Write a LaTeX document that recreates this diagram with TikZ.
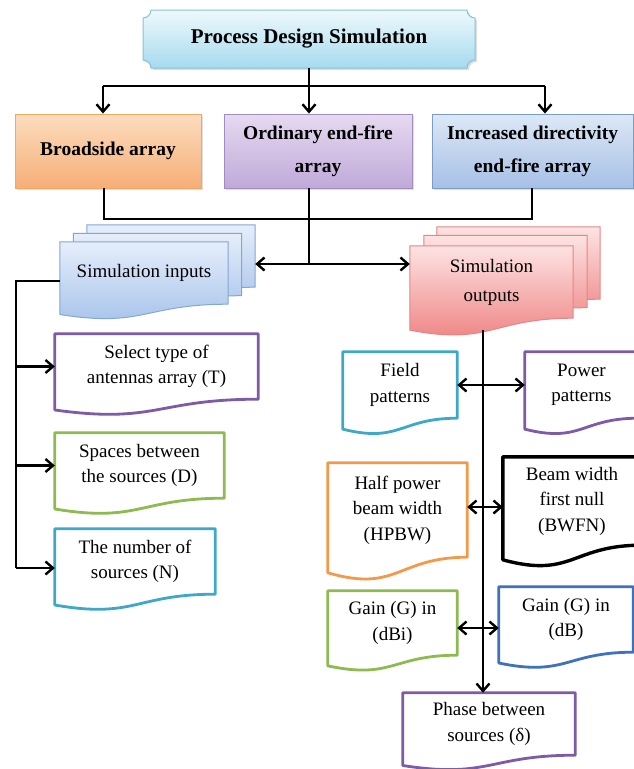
\documentclass[tikz,border=0pt]{standalone}
\usepackage{fontspec}
\setmainfont{Liberation Serif}
\usetikzlibrary{arrows.meta,calc,backgrounds,shadows}
\definecolor{cyanb}{HTML}{3FA8C8}
\definecolor{purpb}{HTML}{7D5BA6}
\definecolor{greenb}{HTML}{8DBB50}
\definecolor{orangeb}{HTML}{F39A4A}
\definecolor{blueb}{HTML}{3E72BE}
\definecolor{bsT}{HTML}{FCDDBF}
\definecolor{bsB}{HTML}{F6AE76}
\definecolor{bsD}{HTML}{F2A766}
\definecolor{oeT}{HTML}{E6DAF0}
\definecolor{oeB}{HTML}{C0A9D9}
\definecolor{oeD}{HTML}{A08CC0}
\definecolor{idT}{HTML}{DCE8F6}
\definecolor{idB}{HTML}{A6C0E5}
\definecolor{idD}{HTML}{7B9BCB}
\definecolor{ttT}{HTML}{EEF9FD}
\definecolor{ttB}{HTML}{A6DAEE}
\definecolor{ttD}{HTML}{86C2D6}
\definecolor{inT}{HTML}{E6EEFA}
\definecolor{inB}{HTML}{A3C1EA}
\definecolor{inD}{HTML}{84A6D6}
\definecolor{ouT}{HTML}{FDE3E3}
\definecolor{ouB}{HTML}{EE7E7E}
\definecolor{ouD}{HTML}{E58585}
\newcommand\docpath[2]{%
  \path[#2] (#1.north west) -- (#1.north east) -- (#1.south east)
    .. controls (#1.south) and ($(#1.north)!1.38!(#1.south)$)
    .. ($(#1.north west)!1.165!(#1.south west)$) -- cycle;}
\newcommand\regtext{\fontsize{19}{25.5}\selectfont}
\newcommand\boldtext{\fontsize{19.5}{33}\selectfont\bfseries}
\newcommand\titletext{\fontsize{21}{25}\selectfont\bfseries}
\begin{document}
\begin{tikzpicture}[x=1pt,y=-1pt,
  conn/.style={line width=2.4pt, draw=black},
  >={Straight Barb[length=7.5pt,width=13pt]},
  txt/.style={inner sep=0pt, align=center, font=\regtext},
  docn/.style={txt, rectangle},
  docb/.style={line width=2.8pt, line join=round},
  pagein/.style={top color=inT, bottom color=inB, draw=inD, line width=1pt},
  pageout/.style={top color=ouT, bottom color=ouB, draw=ouD, line width=1pt},
  hdr/.style={rectangle, inner sep=0pt, align=center, font=\boldtext, draw,
    line width=0.9pt, minimum width=#1, minimum height=74pt,
    drop shadow={opacity=0.25, shadow xshift=2pt, shadow yshift=-2pt}},
]
\path[use as bounding box] (0,0) rectangle (634,769);

% title
\node[txt, font=\titletext, minimum width=332pt, minimum height=58pt] (pds) at (309,39) {Process Design Simulation};

% three array boxes
\node[hdr=186pt, top color=bsT, bottom color=bsB, draw=bsD] (bs) at (108,151) {Broadside array};
\node[hdr=188pt, top color=oeT, bottom color=oeB, draw=oeD] (oe) at (318,151) {Ordinary end-fire\\array};
\node[hdr=201pt, top color=idT, bottom color=idB, draw=idD] (ida) at (532.5,151) {Increased directivity\\end-fire array};

% stacked documents
\node[docn, minimum width=168pt, minimum height=62pt] (sin3) at (171,256) {};
\node[docn, minimum width=168pt, minimum height=62pt] (sin2) at (157.5,264.5) {};
\node[docn, minimum width=168pt, minimum height=62pt] (sin) at (144,273) {Simulation inputs};
\node[docn, minimum width=163pt, minimum height=72pt] (sout3) at (518.5,263) {};
\node[docn, minimum width=163pt, minimum height=72pt] (sout2) at (505.5,271.5) {};
\node[docn, minimum width=163pt, minimum height=72pt, font=\fontsize{19}{29}\selectfont] (sout) at (491.5,282) {Simulation\\outputs};

% input documents
\node[docn, minimum width=203pt, minimum height=65pt] (sel) at (156.5,366.5) {Select type of\\antennas array (T)};
\node[docn, minimum width=169pt, minimum height=65pt] (spc) at (139.5,465.5) {Spaces between\\the sources (D)};
\node[docn, minimum width=160pt, minimum height=65pt] (num) at (135,561.5) {The number of\\sources (N)};

% output documents
\node[docn, minimum width=114pt, minimum height=66pt] (fld) at (400,385) {Field\\patterns};
\node[docn, minimum width=113pt, minimum height=66pt] (pow) at (581.5,385) {Power\\patterns};
\node[docn, minimum width=139pt, minimum height=94pt] (hpb) at (397.5,510) {Half power\\beam width\\(HPBW)};
\node[docn, minimum width=138pt, minimum height=88pt] (bwf) at (572,501) {Beam width\\first null\\(BWFN)};
\node[docn, minimum width=129pt, minimum height=64pt] (gdi) at (392.5,623) {Gain (G) in\\(dBi)};
\node[docn, minimum width=134pt, minimum height=65pt] (gdb) at (566,619.5) {Gain (G) in\\(dB)};
\node[docn, minimum width=172pt, minimum height=62pt] (phs) at (489,724) {Phase between\\sources (δ)};

\begin{scope}[on background layer]
  \fill[white] (0,0) rectangle (634,769);
  \path[top color=ttT, bottom color=ttB, draw=ttD, line width=1pt,
        drop shadow={opacity=0.25, shadow xshift=2pt, shadow yshift=-2pt}]
    (151,10) -- (467,10) .. controls (467,14.4) and (470.6,18) .. (475,18)
    -- (475,60) .. controls (470.6,60) and (467,63.6) .. (467,68)
    -- (151,68) .. controls (151,63.6) and (147.4,60) .. (143,60)
    -- (143,18) .. controls (147.4,18) and (151,14.4) .. (151,10) -- cycle;
  \docpath{sin3}{pagein}
  \docpath{sin2}{pagein}
  \docpath{sin}{pagein}
  \docpath{sout3}{pageout}
  \docpath{sout2}{pageout}
  \docpath{sout}{pageout}
  \docpath{sel}{docb, draw=purpb}
  \docpath{spc}{docb, draw=greenb}
  \docpath{num}{docb, draw=cyanb}
  \docpath{fld}{docb, draw=cyanb}
  \docpath{pow}{docb, draw=purpb}
  \docpath{hpb}{docb, draw=orangeb}
  \docpath{bwf}{docb, draw=black, line width=3.4pt}
  \docpath{gdi}{docb, draw=greenb}
  \docpath{gdb}{docb, draw=blueb}
  \docpath{phs}{docb, draw=purpb}
\end{scope}

% top connectors
\coordinate (jl) at (103,86);
\coordinate (j0) at (309,86);
\coordinate (jr) at (545,86);
\draw[conn] (pds.south) -- (j0);
\draw[conn] (jl) -- (jr);
\draw[conn,->] (jl) -- (jl |- bs.north);
\draw[conn,->] (j0) -- (j0 |- oe.north);
\draw[conn,->] (jr) -- (jr |- ida.north);

% middle connectors
\coordinate (bl) at (104,219);
\coordinate (bm) at (309,219);
\coordinate (br) at (532,219);
\coordinate (jc) at (309,264);
\draw[conn] (bl |- bs.south) -- (bl) -- (br) -- (br |- ida.south);
\draw[conn] (bm |- oe.south) -- (jc);
\draw[conn,->] (jc) -- (sin3.east |- jc);
\draw[conn,->] (jc) -- (sout.west |- jc);

% left tree
\coordinate (lt) at (16,281);
\coordinate (lb) at (16,568);
\draw[conn] (sin.west |- lt) -- (lt) -- (lb);
\draw[conn,->] (lt |- sel.west) -- (sel.west);
\draw[conn,->] (lt |- spc.west) -- (spc.west);
\draw[conn,->] (lb) -- (num.west |- lb);

% right tree
\coordinate (rv) at (483,330);
\coordinate (y507) at (0,507);
\coordinate (y628) at (0,628);
\draw[conn,->] (rv) -- (rv |- phs.north);
\draw[conn,<->] (fld.east) -- (pow.west);
\draw[conn,<->] (hpb.east |- y507) -- (bwf.west |- y507);
\draw[conn,<->] (gdi.east |- y628) -- (gdb.west |- y628);
\end{tikzpicture}
\end{document}
